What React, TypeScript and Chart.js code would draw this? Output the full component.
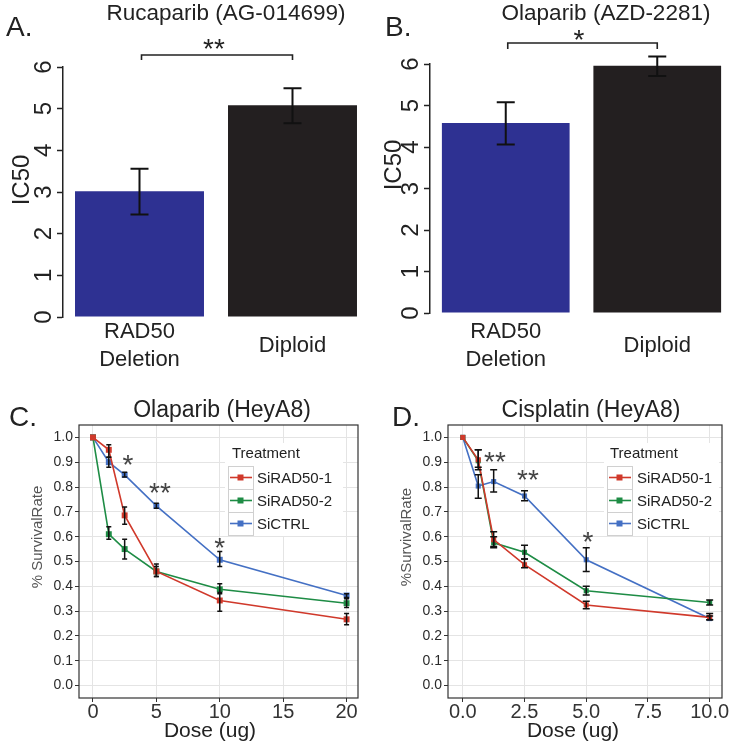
import React, { useEffect, useRef } from "react";
import { Chart, registerables } from "chart.js";
Chart.register(...registerables);

const FONT = "'Liberation Sans', Arial, Helvetica, sans-serif";
const W = 733;
const H = 750;

// ---------- Panels A / B : IC50 bar charts ----------
const barCategories: (string | string[])[] = [["RAD50", "Deletion"], "Diploid"];
const ic50Ticks = [0, 1, 2, 3, 4, 5, 6];
const barColors = ["#2E3192", "#231F20"];

const rucaparibIC50 = [3.02, 5.08];
const rucaparibLow = [2.46, 4.65];
const rucaparibHigh = [3.56, 5.49];

const olaparibIC50 = [4.58, 5.96];
const olaparibLow = [4.06, 5.71];
const olaparibHigh = [5.08, 6.18];

// ---------- Panels C / D : survival curves ----------
const seriesNames = ["SiRAD50-1", "SiRAD50-2", "SiCTRL"];
const seriesColors = ["#D0392B", "#1E8C45", "#4470C4"];
const rateTicks = [0, 0.1, 0.2, 0.3, 0.4, 0.5, 0.6, 0.7, 0.8, 0.9, 1.0];

// C: Olaparib (HeyA8)
const olaDose = [0, 1.25, 2.5, 5, 10, 20];
const olaDoseTicks = [0, 5, 10, 15, 20];
const olaRad1 = [1.0, 0.95, 0.686, 0.46, 0.343, 0.267];
const olaRad1Low = [1.0, 0.92, 0.65, 0.44, 0.3, 0.245];
const olaRad1High = [1.0, 0.97, 0.72, 0.49, 0.375, 0.29];
const olaRad2 = [1.0, 0.61, 0.55, 0.46, 0.388, 0.332];
const olaRad2Low = [1.0, 0.59, 0.51, 0.44, 0.37, 0.315];
const olaRad2High = [1.0, 0.64, 0.59, 0.48, 0.41, 0.35];
const olaCtrl = [1.0, 0.9, 0.849, 0.724, 0.507, 0.363];
const olaCtrlLow = [1.0, 0.88, 0.84, 0.715, 0.48, 0.355];
const olaCtrlHigh = [1.0, 0.92, 0.86, 0.735, 0.54, 0.37];

// D: Cisplatin (HeyA8)
const cisDose = [0, 0.625, 1.25, 2.5, 5, 10];
const cisDoseTicks = [0, 2.5, 5, 7.5, 10];
const cisRad1 = [1.0, 0.91, 0.588, 0.487, 0.325, 0.275];
const cisRad1Low = [1.0, 0.88, 0.56, 0.475, 0.31, 0.265];
const cisRad1High = [1.0, 0.95, 0.62, 0.51, 0.34, 0.29];
const cisRad2 = [1.0, 0.906, 0.575, 0.537, 0.382, 0.335];
const cisRad2Low = [1.0, 0.87, 0.555, 0.51, 0.365, 0.325];
const cisRad2High = [1.0, 0.95, 0.6, 0.565, 0.4, 0.345];
const cisCtrl = [1.0, 0.804, 0.822, 0.764, 0.507, 0.27];
const cisCtrlLow = [1.0, 0.755, 0.78, 0.745, 0.46, 0.265];
const cisCtrlHigh = [1.0, 0.85, 0.87, 0.785, 0.555, 0.28];

// ---------- plugins ----------
type Txt = {
  t: string; x: number; y: number; size: number;
  align?: CanvasTextAlign; rot?: number; color?: string; star?: boolean; data?: boolean; base?: boolean;
};

function textPlugin(items: Txt[]) {
  return {
    id: "txt",
    afterDraw(chart: any) {
      const ctx = chart.ctx;
      for (const it of items) {
        let x = it.x, y = it.y;
        if (it.data) {
          x = chart.scales.x.getPixelForValue(it.x);
          y = chart.scales.y.getPixelForValue(it.y);
        }
        ctx.save();
        ctx.font = `${it.size}px ${FONT}`;
        ctx.fillStyle = it.color || "#222";
        ctx.textAlign = it.align || "center";
        ctx.translate(x, y);
        if (it.rot) ctx.rotate(it.rot);
        if (it.star) {
          ctx.textBaseline = "alphabetic";
          ctx.fillText(it.t, 0, it.size * 0.58);
        } else if (it.base) {
          ctx.textBaseline = "alphabetic";
          ctx.fillText(it.t, 0, 0);
        } else {
          ctx.textBaseline = "middle";
          ctx.fillText(it.t, 0, 0);
        }
        ctx.restore();
      }
    },
  };
}

function errorBarPlugin(capHalf: number, lw: number) {
  return {
    id: "errbars",
    afterDatasetsDraw(chart: any) {
      const ctx = chart.ctx;
      const ys = chart.scales.y;
      ctx.save();
      ctx.strokeStyle = "#111";
      ctx.lineWidth = lw;
      chart.data.datasets.forEach((ds: any, i: number) => {
        const meta = chart.getDatasetMeta(i);
        meta.data.forEach((el: any, j: number) => {
          const lo = ds.errLow ? ds.errLow[j] : null;
          const hi = ds.errHigh ? ds.errHigh[j] : null;
          if (lo == null || hi == null || hi - lo < 1e-6) return;
          const x = el.x;
          const y1 = ys.getPixelForValue(lo);
          const y2 = ys.getPixelForValue(hi);
          ctx.beginPath();
          ctx.moveTo(x, y1); ctx.lineTo(x, y2);
          ctx.moveTo(x - capHalf, y1); ctx.lineTo(x + capHalf, y1);
          ctx.moveTo(x - capHalf, y2); ctx.lineTo(x + capHalf, y2);
          ctx.stroke();
        });
      });
      ctx.restore();
    },
  };
}

function bracketPlugin(y: number, drop: number) {
  return {
    id: "bracket",
    afterDraw(chart: any) {
      const ctx = chart.ctx;
      const xs = chart.scales.x;
      const x1 = xs.getPixelForValue(0) + 2;
      const x2 = xs.getPixelForValue(1);
      ctx.save();
      ctx.strokeStyle = "#222";
      ctx.lineWidth = 1.6;
      ctx.beginPath();
      ctx.moveTo(x1, y + drop); ctx.lineTo(x1, y); ctx.lineTo(x2, y); ctx.lineTo(x2, y + drop);
      ctx.stroke();
      ctx.restore();
    },
  };
}

const framePlugin = {
  id: "frame",
  afterDatasetsDraw(chart: any) {
    const { left, top, right, bottom } = chart.chartArea;
    const ctx = chart.ctx;
    ctx.save();
    ctx.strokeStyle = "#333";
    ctx.lineWidth = 1.2;
    ctx.strokeRect(left, top, right - left, bottom - top);
    ctx.restore();
  },
};

function legendPlugin(x0: number, y0: number, titleDx: number, labelDx: number, boxW: number) {
  return {
    id: "ggLegend",
    afterDraw(chart: any) {
      const ctx = chart.ctx;
      const rowH = 23;
      const keyW = 25;
      ctx.save();
      ctx.fillStyle = "#fff";
      ctx.fillRect(x0 - 3, y0, boxW, 24 + rowH * chart.data.datasets.length);
      ctx.font = `15px ${FONT}`;
      ctx.fillStyle = "#222";
      ctx.textAlign = "left";
      ctx.textBaseline = "middle";
      ctx.fillText("Treatment", x0 + titleDx, y0 + 11);
      chart.data.datasets.forEach((ds: any, i: number) => {
        const top = y0 + 23 + i * rowH;
        const cy = top + rowH / 2;
        ctx.strokeStyle = "#d0d0d0";
        ctx.lineWidth = 1;
        ctx.strokeRect(x0 + 0.5, top + 0.5, keyW, rowH);
        ctx.strokeStyle = ds.borderColor;
        ctx.lineWidth = 1.6;
        ctx.beginPath();
        ctx.moveTo(x0 + 2, cy); ctx.lineTo(x0 + keyW - 1, cy);
        ctx.stroke();
        ctx.fillStyle = ds.borderColor;
        ctx.fillRect(x0 + keyW / 2 - 3, cy - 3, 6, 6);
        ctx.fillStyle = "#222";
        ctx.fillText(ds.label, x0 + labelDx, cy + 1);
      });
      ctx.restore();
    },
  };
}

// ---------- config builders ----------
type Area = { left: number; right: number; top: number; bottom: number };

function barConfig(values: number[], low: number[], high: number[], area: Area, xPad: number, extra: any[]) {
  const yW = 40, xH = 70;
  return {
    type: "bar",
    data: {
      labels: barCategories,
      datasets: [
        {
          data: values,
          backgroundColor: barColors,
          borderWidth: 0,
          barPercentage: 0.843,
          categoryPercentage: 1,
          errLow: low,
          errHigh: high,
        },
      ],
    },
    options: {
      responsive: false,
      animation: false,
      devicePixelRatio: 1,
      events: [],
      layout: {
        padding: { left: area.left - yW, right: W - area.right, top: area.top, bottom: H - area.bottom - xH },
      },
      plugins: { legend: { display: false }, tooltip: { enabled: false }, title: { display: false } },
      scales: {
        x: {
          afterFit: (s: any) => { s.height = xH; },
          grid: { display: false, drawTicks: false },
          border: { display: false },
          ticks: {
            font: { family: FONT, size: 22, lineHeight: 1.25 },
            color: "#222",
            padding: xPad,
            crossAlign: "center",
            maxRotation: 0,
            minRotation: 0,
            autoSkip: false,
          },
        },
        y: {
          min: 0,
          max: 6,
          afterBuildTicks: (s: any) => { s.ticks = ic50Ticks.map((v) => ({ value: v })); },
          afterFit: (s: any) => { s.width = yW; },
          grid: { drawOnChartArea: false, drawTicks: true, tickLength: 6, tickColor: "#222", tickWidth: 1.5 },
          border: { display: true, color: "#222", width: 1.5 },
          ticks: {
            font: { family: FONT, size: 24 },
            color: "#222",
            minRotation: 90,
            maxRotation: 90,
            crossAlign: "center",
            padding: 6,
            autoSkip: false,
          },
        },
      },
    },
    plugins: extra,
  };
}

function lineConfig(
  dose: number[],
  series: number[][],
  lows: number[][],
  highs: number[][],
  area: Area,
  xMin: number,
  xMax: number,
  xTicks: number[],
  xFmt: (v: number) => string,
  pointR: number,
  capHalf: number,
  extra: any[]
) {
  const yW = 40, xH = 30;
  return {
    type: "line",
    data: {
      datasets: series.map((vals, si) => ({
        label: seriesNames[si],
        data: dose.map((d, i) => ({ x: d, y: vals[i] })),
        borderColor: seriesColors[si],
        backgroundColor: seriesColors[si],
        borderWidth: 1.6,
        pointStyle: "rect",
        pointRadius: pointR,
        pointBorderWidth: 0,
        tension: 0,
        errLow: lows[si],
        errHigh: highs[si],
      })),
    },
    options: {
      responsive: false,
      animation: false,
      devicePixelRatio: 1,
      events: [],
      layout: {
        padding: { left: area.left - yW, right: W - area.right, top: area.top, bottom: H - area.bottom - xH },
      },
      plugins: { legend: { display: false }, tooltip: { enabled: false }, title: { display: false } },
      scales: {
        x: {
          type: "linear",
          min: xMin,
          max: xMax,
          afterBuildTicks: (s: any) => { s.ticks = xTicks.map((v) => ({ value: v })); },
          afterFit: (s: any) => { s.height = xH; },
          grid: { color: "#E4E4E4", lineWidth: 1, drawTicks: true, tickLength: 4, tickColor: "#333", tickWidth: 1 },
          border: { display: false },
          ticks: {
            callback: (v: any) => xFmt(Number(v)),
            font: { family: FONT, size: 20, lineHeight: 1 },
            color: "#333",
            padding: 0,
            maxRotation: 0,
            minRotation: 0,
            autoSkip: false,
          },
        },
        y: {
          type: "linear",
          min: -0.05,
          max: 1.05,
          afterBuildTicks: (s: any) => { s.ticks = rateTicks.map((v) => ({ value: v })); },
          afterFit: (s: any) => { s.width = yW; },
          grid: { color: "#E4E4E4", lineWidth: 1, drawTicks: true, tickLength: 4, tickColor: "#333", tickWidth: 1 },
          border: { display: false },
          ticks: {
            callback: (v: any) => Number(v).toFixed(1),
            font: { family: FONT, size: 14 },
            color: "#2a2a2a",
            padding: 2,
            autoSkip: false,
          },
        },
      },
    },
    plugins: [errorBarPlugin(capHalf, 1.5), framePlugin, ...extra],
  };
}

// ---------- panels ----------
const makeA = () =>
  barConfig(rucaparibIC50, rucaparibLow, rucaparibHigh, { left: 63, right: 369, top: 67, bottom: 317 }, 15, [
    errorBarPlugin(9, 2),
    bracketPlugin(55, 5),
    textPlugin([
      { t: "Rucaparib (AG-014699)", x: 226, y: 14, size: 22.5 },
      { t: "A.", x: 6, y: 28, size: 28, align: "left" },
      { t: "**", x: 214, y: 42, size: 28, star: true },
      { t: "IC50", x: 22, y: 180, size: 24, rot: -Math.PI / 2 },
    ]),
  ]);

const makeB = () =>
  barConfig(olaparibIC50, olaparibLow, olaparibHigh, { left: 430, right: 733, top: 64, bottom: 313 }, 19, [
    errorBarPlugin(9, 2),
    bracketPlugin(43, 6),
    textPlugin([
      { t: "Olaparib (AZD-2281)", x: 606, y: 14, size: 22.5 },
      { t: "B.", x: 385, y: 28, size: 28, align: "left" },
      { t: "*", x: 579, y: 33, size: 28, star: true },
      { t: "IC50", x: 394, y: 165, size: 24, rot: -Math.PI / 2 },
    ]),
  ]);

const makeC = () =>
  lineConfig(
    olaDose,
    [olaRad1, olaRad2, olaCtrl],
    [olaRad1Low, olaRad2Low, olaCtrlLow],
    [olaRad1High, olaRad2High, olaCtrlHigh],
    { left: 79, right: 358, top: 425, bottom: 698 },
    -1.1,
    20.9,
    olaDoseTicks,
    (v) => String(v),
    4.2,
    2.5,
    [
      legendPlugin(228, 443, 4, 29, 118),
      textPlugin([
        { t: "Olaparib (HeyA8)", x: 222, y: 411, size: 23 },
        { t: "C.", x: 9, y: 418, size: 28, align: "left" },
        { t: "*", x: 2.76, y: 0.92, size: 28, star: true, data: true, color: "#444" },
        { t: "**", x: 5.28, y: 0.805, size: 28, star: true, data: true, color: "#444" },
        { t: "*", x: 10.0, y: 0.583, size: 28, star: true, data: true, color: "#444" },
        { t: "% SurvivalRate", x: 38, y: 537, size: 15, rot: -Math.PI / 2, color: "#555" },
        { t: "Dose (ug)", x: 210, y: 737, size: 21, base: true },
      ]),
    ]
  );

const makeD = () =>
  lineConfig(
    cisDose,
    [cisRad1, cisRad2, cisCtrl],
    [cisRad1Low, cisRad2Low, cisCtrlLow],
    [cisRad1High, cisRad2High, cisCtrlHigh],
    { left: 448, right: 722, top: 425, bottom: 698 },
    -0.6,
    10.5,
    cisDoseTicks,
    (v) => v.toFixed(1),
    3.6,
    3.5,
    [
      legendPlugin(607, 443, 3, 30, 115),
      textPlugin([
        { t: "Cisplatin (HeyA8)", x: 591, y: 411, size: 23 },
        { t: "D.", x: 392, y: 418, size: 28, align: "left" },
        { t: "**", x: 1.3, y: 0.93, size: 28, star: true, data: true, color: "#444" },
        { t: "**", x: 2.64, y: 0.858, size: 28, star: true, data: true, color: "#444" },
        { t: "*", x: 5.07, y: 0.608, size: 28, star: true, data: true, color: "#444" },
        { t: "%SurvivalRate", x: 407, y: 537, size: 15, rot: -Math.PI / 2, color: "#555" },
        { t: "Dose (ug)", x: 573, y: 737, size: 21, base: true },
      ]),
    ]
  );

function ChartLayer({ make }: { make: () => any }) {
  const ref = useRef<HTMLCanvasElement>(null);
  useEffect(() => {
    const chart = new Chart(ref.current as HTMLCanvasElement, make());
    return () => chart.destroy();
  }, [make]);
  return (
    <canvas
      ref={ref}
      width={W}
      height={H}
      style={{ position: "absolute", left: 0, top: 0, width: W, height: H, pointerEvents: "none" }}
    />
  );
}

export default function App() {
  return (
    <div style={{ position: "absolute", left: 0, top: 0, width: W, height: H, background: "#fff", overflow: "hidden" }}>
      <ChartLayer make={makeA} />
      <ChartLayer make={makeB} />
      <ChartLayer make={makeC} />
      <ChartLayer make={makeD} />
    </div>
  );
}
